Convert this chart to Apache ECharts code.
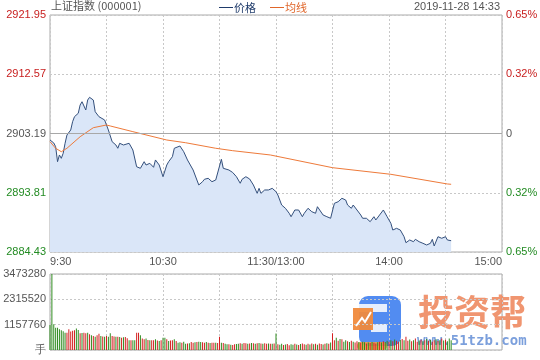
<!DOCTYPE html>
<html><head><meta charset="utf-8">
<script src="https://cdn.jsdelivr.net/npm/echarts@6/dist/echarts.min.js"></script>
<style>html,body{margin:0;padding:0;background:#fff}#c{width:540px;height:360px}</style>
</head><body><div id="c"></div>
<script>
const titleText = '上证指数 (000001)';
const dateText = '2019-11-28 14:33';
const seriesNames = ['价格', '均线'];
const timeTickMinutes = [0, 60, 120, 180, 240];
const timeLabels = ['9:30', '10:30', '11:30/13:00', '14:00', '15:00'];
const prevClose = 2903.19;
const priceMin = 2884.43;
const priceMax = 2921.95;
const priceTickLabels = ['2884.43', '2893.81', '2903.19', '2912.57', '2921.95'];
const pctTickLabels = ['0.65%', '0.32%', '0', '0.32%', '0.65%'];
const volMax = 3473280;
const volStep = 1157760;
const volTickLabels = ['手', '1157760', '2315520', '3473280'];

const priceMinutes = [0,2,3,4,5,6,7,8,9,11,12,13,15,16,17,19,20,21,23,24,26,27,29,31,33,35,36,37,39,42,43,44,46,48,50,51,53,55,56,58,60,62,63,65,66,67,69,71,73,76,79,81,82,84,86,88,89,91,92,95,97,99,101,102,104,106,108,110,111,112,114,116,118,120,121,123,125,127,128,130,132,134,135,137,139,141,142,143,145,147,149,150,151,153,155,157,158,160,161,163,165,166,168,170,172,173,175,177,178,179,181,182,183,184,186,188,189,191,193,194,196,198,200,202,203,204,206,208,210,211,212,213];
const priceValues = [2902.16,2901.69,2901.10,2898.73,2899.79,2899.26,2900.06,2901.64,2902.95,2903.74,2905.06,2905.85,2906.39,2907.70,2908.22,2906.91,2908.49,2908.92,2908.49,2906.64,2905.85,2905.96,2905.33,2903.74,2901.89,2901.37,2900.85,2901.64,2901.37,2901.64,2901.37,2900.58,2897.93,2897.68,2898.73,2898.20,2898.47,2897.84,2899.00,2898.20,2896.35,2898.20,2898.73,2899.52,2900.85,2901.10,2901.21,2900.31,2899.00,2897.41,2895.04,2895.56,2895.94,2896.10,2895.56,2895.83,2895.56,2899.11,2897.68,2897.41,2897.02,2896.35,2895.31,2895.94,2896.35,2895.99,2895.04,2893.72,2894.51,2893.72,2894.25,2894.25,2894.51,2893.98,2893.45,2891.87,2891.35,2890.56,2890.02,2891.08,2891.08,2890.02,2890.56,2891.35,2890.81,2890.56,2891.60,2891.35,2890.29,2890.02,2889.77,2889.50,2892.14,2892.39,2892.93,2892.66,2891.87,2891.35,2891.87,2891.08,2890.29,2889.77,2889.77,2889.23,2890.02,2889.50,2890.29,2891.08,2890.81,2890.02,2888.97,2887.91,2887.64,2888.18,2887.91,2886.85,2885.90,2886.33,2886.06,2886.44,2886.06,2885.81,2885.54,2885.81,2886.44,2885.38,2886.85,2886.60,2886.85,2886.33,2886.60,2886.22];

const avgMinutes = [0,3,6,9,16,23,30,32,44,62,72,88,97,117,150,181,211,213];
const avgValues = [2901.89,2900.85,2900.31,2900.85,2902.68,2904.11,2904.54,2904.38,2903.48,2902.16,2901.73,2900.85,2900.47,2899.79,2897.78,2896.73,2895.20,2895.15];

const volumes = [
1144000,3473280,1174000,1022000,1022000,950000,900000,855000,794000,794000,
946000,840000,880000,900000,977000,915000,763000,780000,794000,763000,
794000,718000,672000,640000,611000,672000,740000,641000,620000,611000,
641000,600000,763000,641000,620000,611000,611000,596000,565000,580000,
596000,535000,443000,443000,443000,443000,794000,794000,672000,520000,
489000,520000,458000,450000,443000,443000,489000,430000,413000,443000,
565000,565000,489000,413000,430000,443000,489000,413000,337000,350000,
337000,382000,291000,300000,306000,367000,337000,350000,367000,382000,
367000,350000,337000,367000,337000,320000,337000,337000,337000,320000,
611000,337000,320000,291000,260000,260000,245000,230000,260000,270000,
290000,306000,290000,320000,306000,280000,300000,320000,306000,290000,
306000,320000,300000,290000,306000,280000,300000,290000,280000,300000,
750000,260000,240000,280000,230000,250000,270000,220000,260000,240000,
280000,250000,230000,270000,300000,260000,240000,280000,250000,300000,
260000,280000,240000,300000,270000,250000,290000,310000,280000,340000,
760000,450000,560000,420000,500000,490000,380000,450000,400000,360000,
420000,380000,340000,400000,360000,330000,380000,350000,300000,340000,
320000,360000,330000,300000,350000,380000,340000,400000,360000,420000,
380000,450000,400000,480000,420000,380000,460000,500000,440000,610000,
420000,480000,400000,450000,520000,380000,430000,470000,400000,450000,
500000,420000,460000,380000,440000,490000,410000,450000,520000,430000,
470000,400000,520000,450000];
const volColors = 'gggggggggrrrrrggrgrrgrgrgrrgrgrggrrgrgrgrrgrggrrgrrgrgrrgrgrggrgrrgrggrggrgrrgrggrrgrgrrgrrgrggrgrrggrgrrgrgrgrgrgrrgrgrgrggrgrrggrgrgrrgrgrgrgrrgrgrgrrgrgrggrgrgrrgrggrgrgrrgrgrggrgrgrrgrgrrgrgrrgrgrgrgrrgrgrgr';

const RED = '#c81e1e', GREEN = '#228b22', GRAY = '#555';
const NUM_FONT = 'Liberation Sans, Arial, sans-serif';
const CJK_FONT = 'Noto Sans CJK SC, sans-serif';

const priceData = priceMinutes.map((m, i) => [m, priceValues[i]]);
const avgData = avgMinutes.map((m, i) => [m, avgValues[i]]);
const volData = volumes.map((v, i) => [i, v]);

const chart = echarts.init(document.getElementById('c'), null, {renderer: 'canvas'});
const dashed = {color: '#c8c8c8', type: [2, 2], width: 1};
const timeLabelFmt = v => {
  const k = timeTickMinutes.indexOf(v);
  return k >= 0 ? timeLabels[k] : '';
};
chart.setOption({
  animation: false,
  backgroundColor: '#fff',
  textStyle: {fontFamily: NUM_FONT},
  grid: [
    {left: 50, right: 38, top: 15, height: 237, show: true, borderColor: '#aaa', borderWidth: 1, backgroundColor: 'transparent', containLabel: false, outerBoundsMode: 'none'},
    {left: 50, right: 38, top: 274, height: 76, show: true, borderColor: '#aaa', borderWidth: 1, backgroundColor: 'transparent', containLabel: false, outerBoundsMode: 'none'}
  ],
  legend: {
    left: 214, top: -3, icon: 'rect', itemWidth: 14, itemHeight: 1, itemGap: 14,
    textStyle: {fontSize: 11, fontFamily: CJK_FONT, padding: [0, 0, 0, -4]},
    data: [
      {name: seriesNames[0], textStyle: {color: '#1f3b6b'}, itemStyle: {color: '#1f3b6b'}},
      {name: seriesNames[1], textStyle: {color: '#e0662a'}, itemStyle: {color: '#e0662a'}}
    ]
  },
  graphic: [
    {type: 'text', left: 51, top: 0, style: {text: titleText, fill: GRAY, font: '11px ' + CJK_FONT}},
    {type: 'text', right: 40, top: 1, style: {text: dateText, fill: GRAY, font: '11px ' + NUM_FONT}},
    {type: 'group', left: 353, top: 296, silent: true, children: [
      {type: 'rect', shape: {x: 6, y: 0, width: 42, height: 50, r: 9}, style: {fill: '#3f7ff0', opacity: 0.9}},
      {type: 'rect', shape: {x: 6, y: 8, width: 28, height: 8}, style: {fill: '#ffffff', opacity: 0.85}},
      {type: 'rect', shape: {x: 18, y: 28, width: 16, height: 8}, style: {fill: '#ffffff', opacity: 0.85}},
      {type: 'rect', shape: {x: 0, y: 12, width: 20, height: 22}, style: {fill: '#f08a3c', opacity: 0.95}},
      {type: 'polyline', shape: {points: [[3, 30], [9, 22], [12, 26], [18, 16]]}, style: {stroke: '#fff', lineWidth: 2, fill: null}},
      {type: 'rect', shape: {x: 4, y: 46, width: 30, height: 8, r: 4}, style: {fill: '#f5a040', opacity: 0.85}}
    ]},
    {type: 'text', left: 418, top: 294, silent: true, style: {text: '投资帮', fill: '#ee8a60', opacity: 0.9, font: 'bold 36px ' + CJK_FONT}},
    {type: 'text', left: 417, top: 334, silent: true, style: {text: 'www.51tzb.com', fill: '#6d95d8', opacity: 0.9, font: 'bold 14px DejaVu Sans Mono, monospace'}}
  ],
  xAxis: [
    {type: 'value', gridIndex: 0, min: 0, max: 240, interval: 30,
     axisLine: {show: false}, axisTick: {show: false},
     axisLabel: {show: true, margin: 4, fontSize: 11, color: GRAY, fontFamily: NUM_FONT, formatter: timeLabelFmt, alignMinLabel: 'left', alignMaxLabel: 'right', showMinLabel: true, showMaxLabel: true, hideOverlap: false},
     splitLine: {show: true, lineStyle: dashed}},
    {type: 'value', gridIndex: 1, min: 0, max: 240, interval: 30,
     axisLine: {show: false}, axisTick: {show: false}, axisLabel: {show: false},
     splitLine: {show: true, lineStyle: dashed}}
  ],
  yAxis: [
    {type: 'value', gridIndex: 0, min: priceMin, max: priceMax, show: false, splitLine: {show: false}},
    {type: 'value', gridIndex: 0, position: 'left', min: 0, max: 4, interval: 1,
     axisLine: {show: false}, axisTick: {show: false},
     axisLabel: {margin: 4, fontSize: 11, fontFamily: NUM_FONT, formatter: v => priceTickLabels[Math.round(v)],
       color: v => { const k = Math.round(Number(v)); return k > 2 ? RED : (k < 2 ? GREEN : GRAY); }},
     splitLine: {show: true, lineStyle: dashed}},
    {type: 'value', gridIndex: 0, position: 'right', min: 0, max: 4, interval: 1,
     axisLine: {show: false}, axisTick: {show: false},
     axisLabel: {margin: 4, fontSize: 11, fontFamily: NUM_FONT, formatter: v => pctTickLabels[Math.round(v)],
       color: v => { const k = Math.round(Number(v)); return k > 2 ? RED : (k < 2 ? GREEN : GRAY); }},
     splitLine: {show: false}},
    {type: 'value', gridIndex: 1, min: 0, max: volMax, interval: volStep,
     axisLine: {show: false}, axisTick: {show: false},
     axisLabel: {margin: 4, fontSize: 11, color: GRAY, fontFamily: NUM_FONT, formatter: v => volTickLabels[Math.round(v / volStep)]},
     splitLine: {show: true, lineStyle: dashed}}
  ],
  series: [
    {name: seriesNames[0], type: 'line', xAxisIndex: 0, yAxisIndex: 0, data: priceData, showSymbol: false, symbol: 'none',
     lineStyle: {color: '#34507c', width: 1}, itemStyle: {color: '#1f3b6b'},
     areaStyle: {color: '#dae6f8', opacity: 1, origin: 'start'}, z: 3,
     markLine: {silent: true, symbol: ['none', 'none'], label: {show: false}, animation: false,
       lineStyle: {color: '#a8a8a8', type: 'solid', width: 1}, data: [{yAxis: prevClose}]}},
    {name: seriesNames[1], type: 'line', xAxisIndex: 0, yAxisIndex: 0, data: avgData, showSymbol: false, symbol: 'none',
     lineStyle: {color: '#ee7a3a', width: 1}, itemStyle: {color: '#e0662a'}, z: 4},
    {name: 'volume', type: 'bar', xAxisIndex: 1, yAxisIndex: 3, data: volData, barWidth: 1, z: 2,
     itemStyle: {color: p => volColors[p.dataIndex] === 'r' ? '#d42020' : '#2e8b1e'}}
  ]
});
</script></body></html>
